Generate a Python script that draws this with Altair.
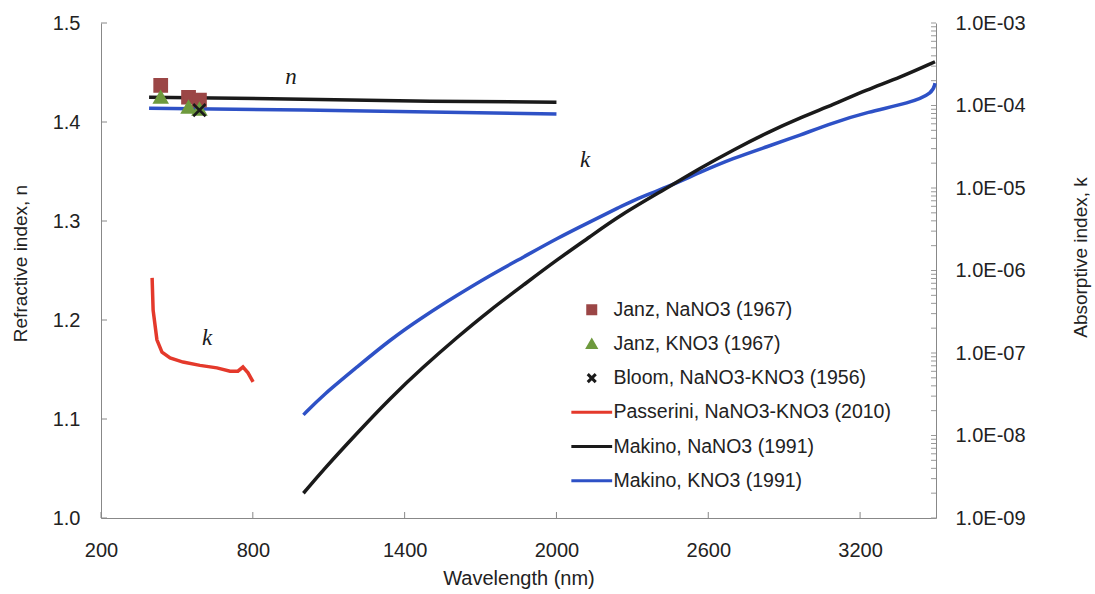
import altair as alt
import pandas as pd

# ---------------- data ----------------
series = ["Janz, NaNO3 (1967)", "Janz, KNO3 (1967)", "Bloom, NaNO3-KNO3 (1956)",
          "Passerini, NaNO3-KNO3 (2010)", "Makino, NaNO3 (1991)", "Makino, KNO3 (1991)"]
colors = ["#9B4646", "#6E9A3E", "#1a1a1a", "#E4392B", "#1a1a1a", "#2E51C6"]
shapes = ["square", "triangle-up", "M-1,-1L1,1M-1,1L1,-1",
          "M-5.1,0L5.1,0", "M-5.1,0L5.1,0", "M-5.1,0L5.1,0"]

# refractive index n (left axis)
janz_na_wl = [436, 546, 589]
janz_na_n = [1.437, 1.425, 1.422]
janz_k_wl = [436, 546, 589]
janz_k_n = [1.425, 1.415, 1.413]
bloom_wl = [589]
bloom_n = [1.412]

mak_na_n_wl = [390, 1000, 1500, 2000]
mak_na_n = [1.425, 1.423, 1.421, 1.420]
mak_k_n_wl = [390, 1000, 1500, 2000]
mak_k_n = [1.414, 1.412, 1.410, 1.408]

# absorptive index k (right axis, log10 values)
pass_wl = [402, 406, 421, 441, 473, 524, 591, 658, 710, 741, 761, 781, 801]
pass_logk = [-6.09, -6.48, -6.84, -6.99, -7.06, -7.11, -7.15, -7.18, -7.22, -7.22, -7.17, -7.24, -7.35]

mak_na_k_wl = [1000, 1077, 1212, 1342, 1473, 1607, 1737, 1868, 2002, 2133, 2251,
               2437, 2567, 2698, 2832, 2962, 3093, 3227, 3358, 3496]
mak_na_k_logk = [-8.70, -8.42, -7.97, -7.55, -7.17, -6.81, -6.48, -6.18, -5.87, -5.59, -5.33,
                 -5.00, -4.76, -4.54, -4.33, -4.15, -3.99, -3.81, -3.66, -3.47]

mak_k_k_wl = [1000, 1077, 1212, 1342, 1473, 1607, 1737, 1868, 2002, 2133, 2251, 2302,
              2437, 2567, 2698, 2832, 2962, 3093, 3227, 3397, 3488, 3496]
mak_k_k_logk = [-7.75, -7.51, -7.17, -6.84, -6.56, -6.30, -6.06, -5.84, -5.61, -5.41, -5.23, -5.15,
                -4.99, -4.81, -4.64, -4.50, -4.36, -4.21, -4.08, -3.97, -3.85, -3.73]

x_ticks = [200, 800, 1400, 2000, 2600, 3200]
n_ticks = [1.0, 1.1, 1.2, 1.3, 1.4, 1.5]
k_ticks = [1e-9, 1e-8, 1e-7, 1e-6, 1e-5, 1e-4, 1e-3]
k_minor = [m * 10.0 ** e for e in range(-9, -3) for m in range(2, 10)]

annot_text = ["n", "k", "k"]
annot_wl = [951, 2113, 619]
annot_n = [1.4455, 1.362, 1.182]

W, H = 835, 495
FONT = "Liberation Sans"

# ---------------- frames ----------------
pts = pd.DataFrame({
    "wl": janz_na_wl + janz_k_wl + bloom_wl,
    "n": janz_na_n + janz_k_n + bloom_n,
    "series": [series[0]] * len(janz_na_wl) + [series[1]] * len(janz_k_wl) + [series[2]] * len(bloom_wl),
})
na_n_df = pd.DataFrame({"wl": mak_na_n_wl, "n": mak_na_n})
k_n_df = pd.DataFrame({"wl": mak_k_n_wl, "n": mak_k_n})
pass_df = pd.DataFrame({"wl": pass_wl, "k": [10 ** v for v in pass_logk]})
na_k_df = pd.DataFrame({"wl": mak_na_k_wl, "k": [10 ** v for v in mak_na_k_logk]})
k_k_df = pd.DataFrame({"wl": mak_k_k_wl, "k": [10 ** v for v in mak_k_k_logk]})
ann_df = pd.DataFrame({"t": annot_text, "wl": annot_wl, "n": annot_n})

xscale = alt.Scale(domain=[200, 3500], nice=False, zero=False)
nscale = alt.Scale(domain=[1.0, 1.5], nice=False, zero=False)
kscale = alt.Scale(type="log", domain=[1e-9, 1e-3], nice=False)

x_axis = alt.Axis(values=x_ticks, format="d", title="Wavelength (nm)", grid=False, tickSize=0,
                  labelPadding=22, labelFontSize=20, labelFont=FONT, labelColor="#222",
                  titleFont=FONT, titleFontSize=20, titleFontWeight="normal", titleColor="#222",
                  titlePadding=8, domainColor="#888", labelFlush=False)
n_axis = alt.Axis(values=n_ticks, format=".1f", title="Refractive index, n", grid=False,
                  tickSize=0, labelPadding=21, labelFontSize=20, labelFont=FONT, labelColor="#222",
                  titleFont=FONT, titleFontSize=19, titleFontWeight="normal", titleColor="#222",
                  titlePadding=22, titleY=240, domainColor="#888")
k_axis = alt.Axis(values=k_ticks, orient="right", title="Absorptive index, k", grid=False,
                  tickSize=0, labelPadding=19,
                  labelExpr="'1.0E-0' + format(-round(log(datum.value)/LN10), 'd')",
                  labelFontSize=20, labelFont=FONT, labelColor="#222",
                  titleFont=FONT, titleFontSize=19, titleFontWeight="normal", titleColor="#222",
                  titleAngle=270, titleX=144, titleY=234, titleBaseline="middle",
                  domainColor="#888")

X = alt.X("wl:Q", scale=xscale, axis=x_axis)

# ---------------- left (n) layer ----------------
line_na_n = alt.Chart(na_n_df).mark_line(color=colors[4], strokeWidth=3.5).encode(
    x=X, y=alt.Y("n:Q", scale=nscale, axis=n_axis))
line_k_n = alt.Chart(k_n_df).mark_line(color=colors[5], strokeWidth=3.5).encode(
    x=X, y=alt.Y("n:Q", scale=nscale, axis=n_axis))

points = alt.Chart(pts).mark_point(filled=True, size=150, strokeWidth=2.5, opacity=1).encode(
    x=X,
    y=alt.Y("n:Q", scale=nscale, axis=n_axis),
    fill=alt.Fill("series:N", scale=alt.Scale(domain=series, range=colors),
                  legend=alt.Legend(title=None)),
    stroke=alt.Stroke("series:N", scale=alt.Scale(domain=series, range=colors),
                      legend=alt.Legend(title=None)),
    shape=alt.Shape("series:N", scale=alt.Scale(domain=series, range=shapes),
                    legend=alt.Legend(title=None)),
)

annots = alt.Chart(ann_df).mark_text(font="Liberation Serif", fontSize=23, fontStyle="italic",
                                     color="#1a1a1a").encode(
    x=X, y=alt.Y("n:Q", scale=nscale, axis=n_axis), text="t:N")

n_tick_df = pd.DataFrame({"n": n_ticks})
n_tick_marks = alt.Chart(n_tick_df).mark_rule(color="#888", strokeWidth=1).encode(
    y=alt.Y("n:Q", scale=nscale, axis=n_axis), x=alt.value(0), x2=alt.value(6))
x_tick_df = pd.DataFrame({"wl": x_ticks})
x_tick_marks = alt.Chart(x_tick_df).mark_rule(color="#888", strokeWidth=1).encode(
    x=X, y=alt.value(H - 6), y2=alt.value(H))

left = alt.layer(line_na_n, line_k_n, n_tick_marks, x_tick_marks, points, annots)

# ---------------- right (k) layer ----------------
kY = alt.Y("k:Q", scale=kscale, axis=k_axis)
line_pass = alt.Chart(pass_df).mark_line(color=colors[3], strokeWidth=3.5).encode(x=X, y=kY)
line_na_k = alt.Chart(na_k_df).mark_line(color=colors[4], strokeWidth=3.5,
                                         interpolate="basis").encode(x=X, y=kY)
line_k_k = alt.Chart(k_k_df).mark_line(color=colors[5], strokeWidth=3.5,
                                       interpolate="basis").encode(x=X, y=kY)
k_tick_df = pd.DataFrame({"k": k_ticks + k_minor})
k_tick_marks = alt.Chart(k_tick_df).mark_rule(color="#999", strokeWidth=1).encode(
    y=kY, x=alt.value(W - 5), x2=alt.value(W))

right = alt.layer(k_tick_marks, line_pass, line_k_k, line_na_k)

chart = alt.layer(left, right).resolve_scale(y="independent").properties(
    width=W, height=H,
    padding={"left": 101, "top": 23, "right": 159, "bottom": 76},
    autosize=alt.AutoSizeParams(type="none"),
    background="white",
).configure_view(stroke=None).configure_legend(
    orient="none", legendX=481, legendY=277, padding=0,
    labelFont=FONT, labelFontSize=19.5, labelColor="#222", labelLimit=400,
    symbolSize=64, symbolStrokeWidth=3, rowPadding=13.2, labelOffset=12,
    symbolOpacity=1,
)

chart.save("out.html", embed_options={"renderer": "svg", "actions": False})
